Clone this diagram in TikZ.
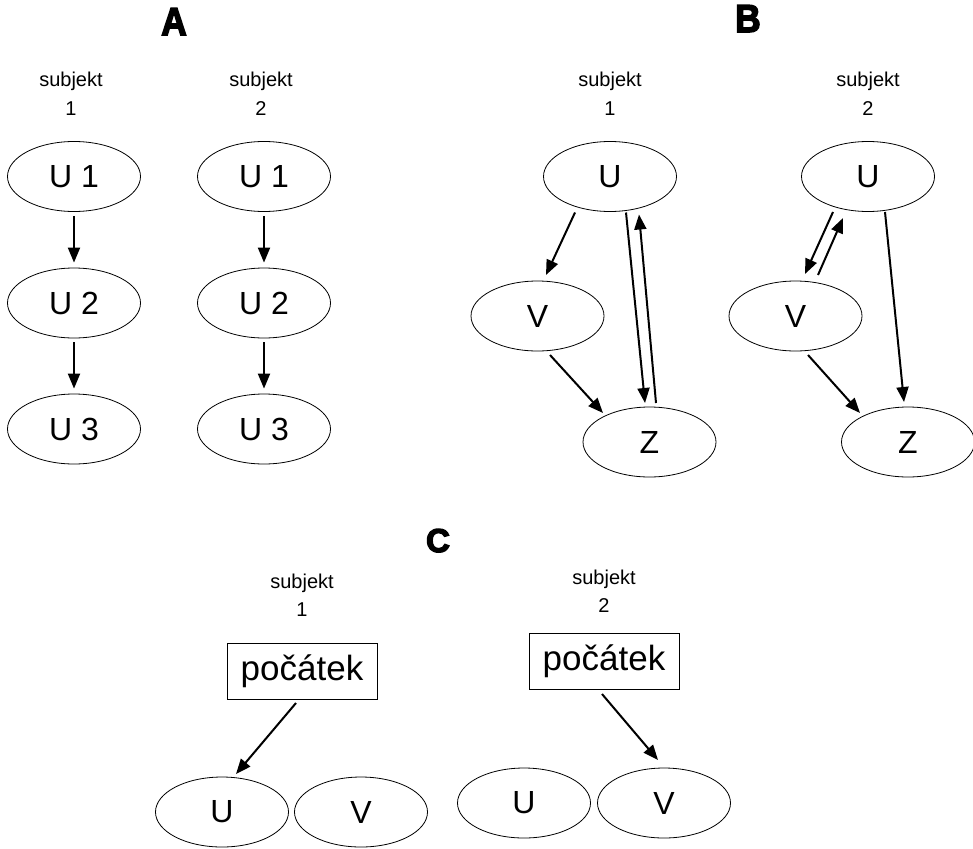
\documentclass[tikz,border=0pt]{standalone}
\usepackage{fontspec}
\setmainfont{Liberation Sans}
\newfontfamily\heavyfont{Liberation Sans Bold}[FakeBold=4]
\usetikzlibrary{shapes.geometric,arrows.meta,calc}

\tikzset{
  ell/.style={ellipse, draw, line width=0.8pt, minimum width=133pt, minimum height=70pt,
              inner sep=0pt, font=\fontsize{32}{38}\selectfont},
  startbox/.style={rectangle, draw, line width=0.8pt, minimum width=150pt, minimum height=56pt,
              inner sep=0pt, font=\fontsize{35}{40}\selectfont},
  lab/.style={anchor=base, inner sep=0pt, font=\fontsize{20}{24}\selectfont},
  ttl/.style={anchor=base, inner sep=0pt, font=\heavyfont\fontsize{39}{44}\selectfont},
  arr/.style={line width=2pt, -{Triangle[length=15pt,width=12pt]}},
}

\begin{document}
\begin{tikzpicture}[x=1pt,y=-1pt]
\useasboundingbox (0,0) rectangle (973,848);

% ---------- panel A ----------
\node[ttl] (tA) at (174,35) {\scalebox{0.9}[1]{A}};
\node[lab] (a1s) at (71,87) {subjekt};
\node[lab] (a1n) at (71,115) {1};
\node[lab] (a2s) at (261,87) {subjekt};
\node[lab] (a2n) at (261,115) {2};

\node[ell] (a1u1) at (74,176.5) {U 1};
\node[ell] (a1u2) at (74,303) {U 2};
\node[ell] (a1u3) at (74,429) {U 3};
\node[ell] (a2u1) at (264,176.5) {U 1};
\node[ell] (a2u2) at (264,303) {U 2};
\node[ell] (a2u3) at (264,429) {U 3};

\draw[arr] ([yshift=-4pt]a1u1.south) -- ([yshift=5pt]a1u2.north);
\draw[arr] ([yshift=-4pt]a1u2.south) -- ([yshift=5pt]a1u3.north);
\draw[arr] ([yshift=-4pt]a2u1.south) -- ([yshift=5pt]a2u2.north);
\draw[arr] ([yshift=-4pt]a2u2.south) -- ([yshift=5pt]a2u3.north);

% ---------- panel B ----------
\node[ttl] (tB) at (748,32) {\scalebox{0.9}[1]{B}};
\node[lab] (b1s) at (610,87) {subjekt};
\node[lab] (b1n) at (610,115) {1};
\node[lab] (b2s) at (868,87) {subjekt};
\node[lab] (b2n) at (868,115) {2};

\node[ell] (b1u) at (610,176.5) {U};
\node[ell] (b1v) at (537.5,316) {V};
\node[ell] (b1z) at (649.5,442) {Z};

\draw[arr] ($(b1u)+(-35,36)$) -- ($(b1v)+(8.5,-41)$);
\draw[arr] ($(b1u)+(16,36)$) -- ($(b1z)+(-4.5,-39)$);
\draw[arr] ($(b1z)+(6.5,-39)$) -- ($(b1u)+(29,38)$);
\draw[arr] ($(b1v)+(12.5,39)$) -- ($(b1z)+(-46.5,-29)$);

\node[ell] (b2u) at (868,176.5) {U};
\node[ell] (b2v) at (795.5,316) {V};
\node[ell] (b2z) at (908,442) {Z};

\draw[arr] ($(b2u)+(-35,35.5)$) -- ($(b2v)+(9.5,-42)$);
\draw[arr] ($(b2v)+(22.5,-41)$) -- ($(b2u)+(-25,41.5)$);
\draw[arr] ($(b2u)+(17,35.5)$) -- ($(b2z)+(-4,-40)$);
\draw[arr] ($(b2v)+(12.5,39)$) -- ($(b2z)+(-48,-29)$);

% ---------- panel C ----------
\node[ttl,font=\heavyfont\fontsize{33}{40}\selectfont] (tC) at (438,552) {C};
\node[lab] (c1s) at (302,588) {subjekt};
\node[lab] (c1n) at (302,616) {1};
\node[lab] (c2s) at (604,584) {subjekt};
\node[lab] (c2n) at (604,612) {2};

\node[startbox] (c1p) at (302,671) {počátek};
\node[ell] (c1u) at (222,812) {U};
\node[ell] (c1v) at (361,812) {V};
\draw[arr] ($(c1p)+(-6,32)$) -- ($(c1u)+(14,-38)$);

\node[startbox] (c2p) at (604,661) {počátek};
\node[ell] (c2u) at (524,803) {U};
\node[ell] (c2v) at (664,803) {V};
\draw[arr] ($(c2p)+(-2,33)$) -- ($(c2v)+(-6,-43)$);
\end{tikzpicture}
\end{document}
